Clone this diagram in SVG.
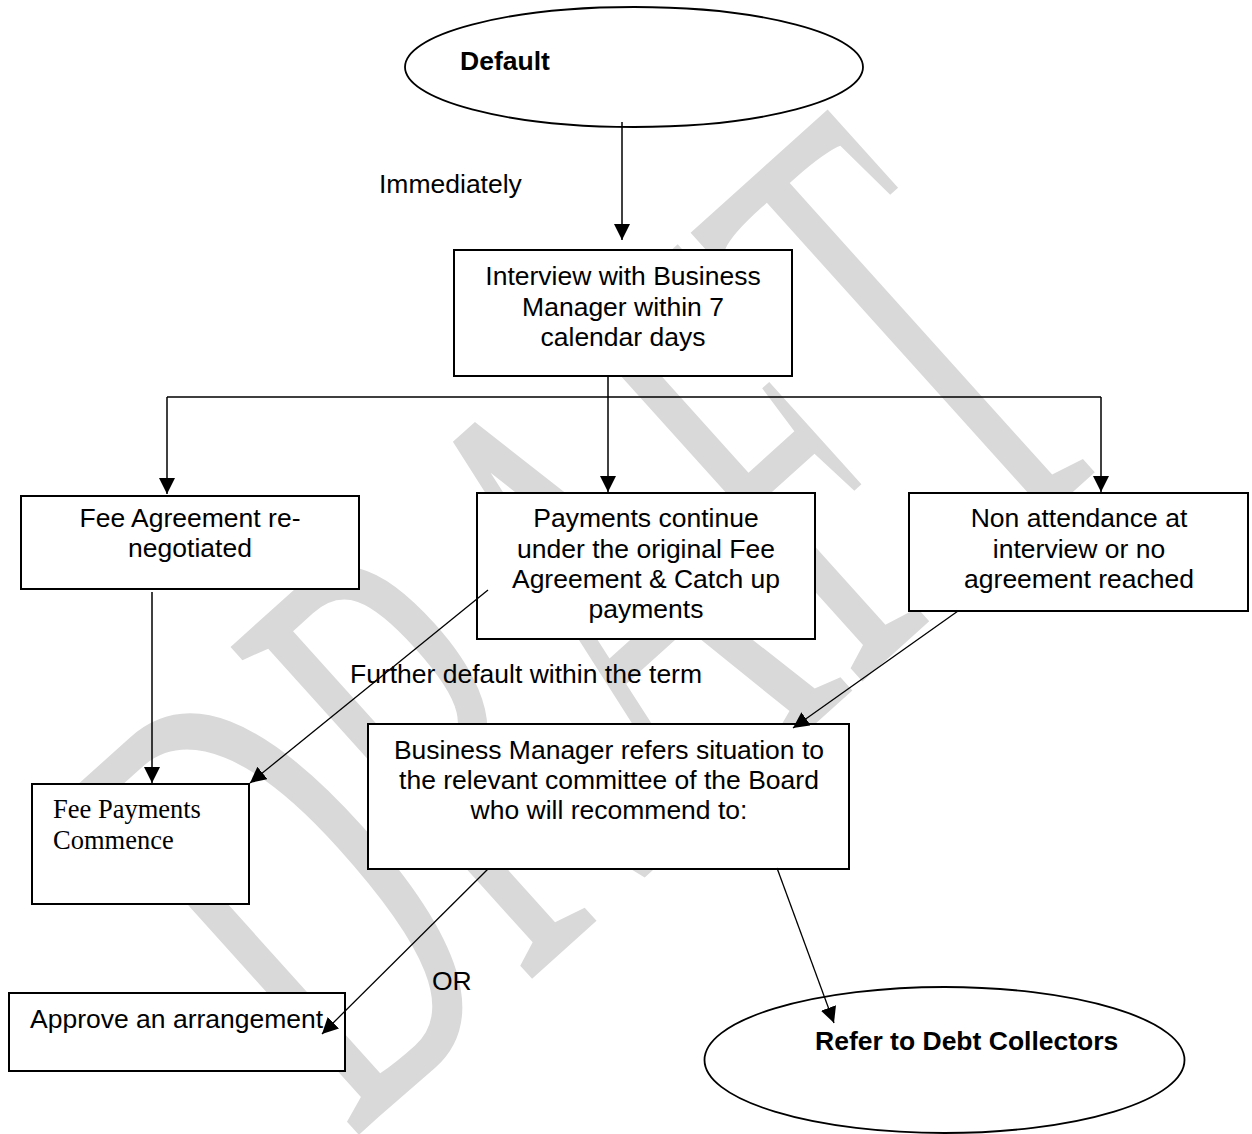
<svg xmlns="http://www.w3.org/2000/svg" width="1252" height="1134" viewBox="0 0 1252 1134">
<defs>
<marker id="ah" markerUnits="userSpaceOnUse" markerWidth="18" markerHeight="18" refX="16" refY="8" orient="auto">
<path d="M0,0 L16,8 L0,16 z" fill="#000"/>
</marker>
<style>
.box{fill:#fff;stroke:#000;stroke-width:2}
.ell{fill:#fff;stroke:#000;stroke-width:1.8}
.t{font-family:"Liberation Sans",Arial,sans-serif;font-size:26.5px;fill:#000}
.c{text-anchor:middle}
.b{font-weight:bold}
.serif{font-family:"Liberation Serif","Times New Roman",serif;font-size:26.5px;fill:#000}
.conn path{fill:none;stroke:#000;stroke-width:1.5}
.conn .diag{stroke-width:1.3}
.conn .arr{marker-end:url(#ah)}
.wm{font-family:"Liberation Serif","Times New Roman",serif;font-size:320px;fill:#d9d9d9}
</style>
</defs>
<rect width="1252" height="1134" fill="#fff"/>
<g id="watermark">
<text class="wm" transform="translate(352,1141) rotate(-42) scale(1,2.14)">DRAFT</text>
</g>
<g id="default">
<ellipse class="ell" cx="634" cy="67" rx="229" ry="60"/>
<text class="t b" x="460" y="70">Default</text>
</g>
<g id="label-immediately">
<text class="t" x="379" y="193">Immediately</text>
</g>
<g id="interview">
<rect class="box" x="454" y="250" width="338" height="126"/>
<text class="t c" x="623" y="285">Interview with Business</text>
<text class="t c" x="623" y="315.5">Manager within 7</text>
<text class="t c" x="623" y="346">calendar days</text>
</g>
<g id="fee-agreement">
<rect class="box" x="21" y="496" width="338" height="93"/>
<text class="t c" x="190" y="527">Fee Agreement re-</text>
<text class="t c" x="190" y="557">negotiated</text>
</g>
<g id="payments-continue">
<rect class="box" x="477" y="493" width="338" height="146"/>
<text class="t c" x="646" y="527">Payments continue</text>
<text class="t c" x="646" y="557.5">under the original Fee</text>
<text class="t c" x="646" y="588">Agreement &amp; Catch up</text>
<text class="t c" x="646" y="618">payments</text>
</g>
<g id="non-attendance">
<rect class="box" x="909" y="493" width="339" height="118"/>
<text class="t c" x="1079" y="527">Non attendance at</text>
<text class="t c" x="1079" y="557.5">interview or no</text>
<text class="t c" x="1079" y="588">agreement reached</text>
</g>
<g id="label-further">
<text class="t" x="350" y="683">Further default within the term</text>
</g>
<g id="business-manager">
<rect class="box" x="368" y="724" width="481" height="145"/>
<text class="t c" x="609" y="759">Business Manager refers situation to</text>
<text class="t c" x="609" y="789">the relevant committee of the Board</text>
<text class="t c" x="609" y="819">who will recommend to:</text>
</g>
<g id="fee-payments">
<rect class="box" x="32" y="784" width="217" height="120"/>
<text class="serif" x="53" y="818">Fee Payments</text>
<text class="serif" x="53" y="849">Commence</text>
</g>
<g id="label-or">
<text class="t" x="432" y="990">OR</text>
</g>
<g id="approve">
<rect class="box" x="9" y="993" width="336" height="78"/>
<text class="t" x="30" y="1028">Approve an arrangement</text>
</g>
<g id="debt-collectors">
<ellipse class="ell" cx="944.5" cy="1060" rx="240" ry="73"/>
<text class="t b" x="815" y="1050">Refer to Debt Collectors</text>
</g>
<g id="connectors" class="conn">
<path class="arr" d="M622,122 V240"/>
<path d="M608,376 V397 M167,397 H1101"/>
<path class="arr" d="M167,397 V494"/>
<path class="arr" d="M608,397 V492"/>
<path class="arr" d="M1101,397 V492"/>
<path class="arr" d="M152,592 V783"/>
<path class="arr diag" d="M488,590 L250,783"/>
<path class="arr diag" d="M958,611 L793,728"/>
<path class="arr diag" d="M488,869 L322,1034"/>
<path class="arr diag" d="M777,868 L834,1023"/>
</g>
</svg>
